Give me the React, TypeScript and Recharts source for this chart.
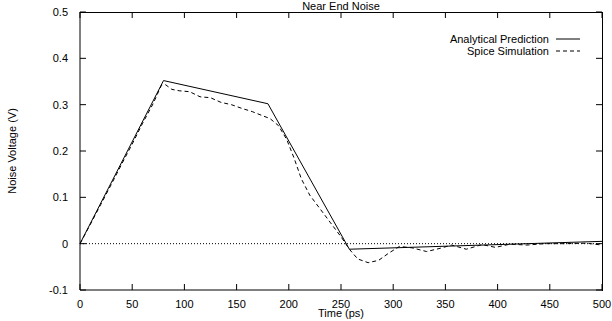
import { LineChart, Line, XAxis, YAxis, ReferenceLine, CartesianGrid } from 'recharts';

const analytical = [
  { t: 0, v: 0 },
  { t: 80, v: 0.352 },
  { t: 180, v: 0.302 },
  { t: 258, v: -0.012 },
  { t: 500, v: 0.005 },
];

const spice = [
  { t: 0, v: 0 }, { t: 10, v: 0.042 }, { t: 20, v: 0.085 }, { t: 30, v: 0.128 },
  { t: 40, v: 0.172 }, { t: 50, v: 0.215 }, { t: 60, v: 0.26 }, { t: 70, v: 0.302 },
  { t: 78, v: 0.342 }, { t: 82, v: 0.343 }, { t: 88, v: 0.333 }, { t: 95, v: 0.33 },
  { t: 105, v: 0.328 }, { t: 115, v: 0.317 }, { t: 125, v: 0.315 }, { t: 135, v: 0.305 },
  { t: 145, v: 0.3 }, { t: 155, v: 0.292 }, { t: 165, v: 0.285 }, { t: 175, v: 0.276 },
  { t: 182, v: 0.27 }, { t: 190, v: 0.255 }, { t: 198, v: 0.225 }, { t: 205, v: 0.185 },
  { t: 212, v: 0.14 }, { t: 220, v: 0.105 }, { t: 230, v: 0.075 }, { t: 240, v: 0.045 },
  { t: 250, v: 0.015 }, { t: 258, v: -0.012 }, { t: 266, v: -0.033 }, { t: 276, v: -0.041 },
  { t: 286, v: -0.036 }, { t: 296, v: -0.02 }, { t: 306, v: -0.006 }, { t: 318, v: -0.009 },
  { t: 332, v: -0.017 }, { t: 345, v: -0.01 }, { t: 356, v: -0.003 }, { t: 370, v: -0.012 },
  { t: 385, v: -0.002 }, { t: 398, v: -0.008 }, { t: 412, v: -0.001 }, { t: 428, v: -0.003 },
  { t: 445, v: 0 }, { t: 465, v: 0 }, { t: 485, v: 0.001 }, { t: 500, v: -0.003 },
];

const xTicks = [0, 50, 100, 150, 200, 250, 300, 350, 400, 450, 500];
const yTicks = [-0.1, 0, 0.1, 0.2, 0.3, 0.4, 0.5];

const font = "'Liberation Sans', Arial, sans-serif";

// plot box: 612 - 80 - 10 wide, 321 - 12 - 31 high
const PW = 522;
const PH = 278;
const T = 6; // inward tick length

export default function App() {
  const tickStyle = { fill: '#000', fontSize: 11, fontFamily: font };
  return (
    <div style={{ position: 'absolute', left: 0, top: 0, width: 612, height: 321, background: '#fff', fontFamily: font }}>
      <div style={{ position: 'absolute', left: 80, width: 522, top: 0, textAlign: 'center', fontSize: 11, lineHeight: '12px' }}>
        Near End Noise
      </div>
      <div style={{ position: 'absolute', right: 32, top: 33, fontSize: 11, lineHeight: '12px', textAlign: 'right' }}>
        <div>Analytical Prediction <svg width={24} height={8} style={{ marginLeft: 4 }}><line x1={0} y1={4} x2={24} y2={4} stroke="#000" /></svg></div>
        <div>Spice Simulation <svg width={24} height={8} style={{ marginLeft: 4 }}><line x1={0} y1={4} x2={24} y2={4} stroke="#000" strokeDasharray="4 3" /></svg></div>
      </div>
      {/* top and right frame edges */}
      <div style={{ position: 'absolute', left: 80, top: 12, width: 523, height: 279, boxSizing: 'border-box', borderTop: '1px solid #000', borderRight: '1px solid #000', pointerEvents: 'none' }} />
      <LineChart width={612} height={321} data={analytical} margin={{ top: 12, right: 10, bottom: 0, left: 0 }}>
        {/* gnuplot-style ticks on all four sides: grid lines dashed so only the ends show */}
        <CartesianGrid horizontal={false} stroke="#000" strokeDasharray={`${T} ${PH - 2 * T}`} />
        <CartesianGrid vertical={false} stroke="#000" strokeDasharray={`${T} ${PW - 2 * T}`} />
        <XAxis
          dataKey="t"
          type="number"
          domain={[0, 500]}
          ticks={xTicks}
          height={31}
          stroke="#000"
          tickLine={false}
          tickMargin={4}
          tick={tickStyle}
          label={{ value: 'Time (ps)', position: 'insideBottom', offset: 4, fill: '#000', fontSize: 11, fontFamily: font }}
        />
        <YAxis
          type="number"
          domain={[-0.1, 0.5]}
          ticks={yTicks}
          width={80}
          stroke="#000"
          tickLine={false}
          tickMargin={6}
          tick={tickStyle}
          tickFormatter={(d: number) => String(d)}
          label={{ value: 'Noise Voltage (V)', angle: -90, position: 'insideLeft', offset: 12, fill: '#000', fontSize: 11, fontFamily: font, style: { textAnchor: 'middle' } }}
        />
        <ReferenceLine y={0} stroke="#000" strokeDasharray="1 2" />
        <Line data={analytical} dataKey="v" type="linear" stroke="#000" strokeWidth={1} dot={false} isAnimationActive={false} />
        <Line data={spice} dataKey="v" type="linear" stroke="#000" strokeWidth={1} strokeDasharray="4 3" dot={false} isAnimationActive={false} />
      </LineChart>
    </div>
  );
}
